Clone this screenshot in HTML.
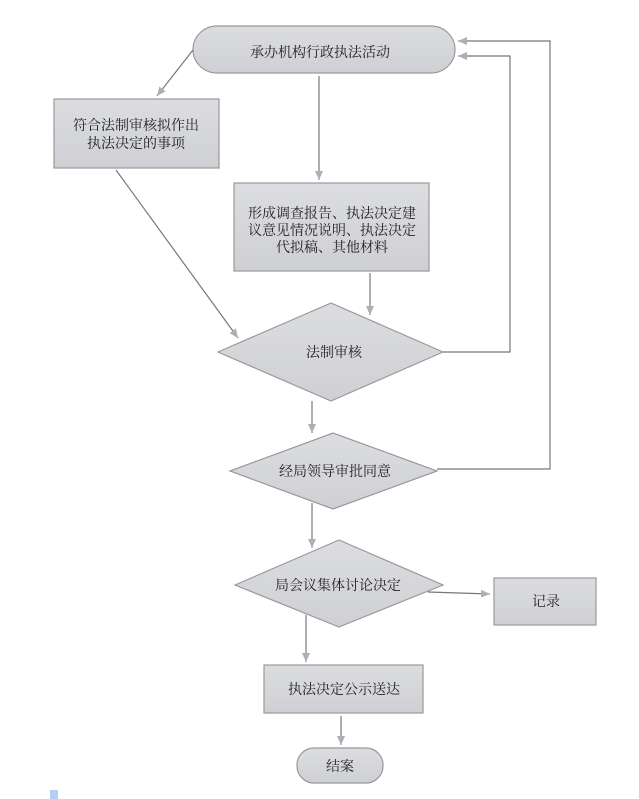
<!DOCTYPE html>
<html><head><meta charset="utf-8"><style>
html,body{margin:0;padding:0;background:#fff;}
svg{display:block;}
text{font-family:"Liberation Serif","Noto Serif CJK SC","Noto Sans CJK SC",serif;font-size:14px;fill:#222;}
</style></head><body>
<svg width="639" height="799" viewBox="0 0 639 799" xmlns="http://www.w3.org/2000/svg">
<defs>
<linearGradient id="g" x1="0" y1="0" x2="0" y2="1">
<stop offset="0" stop-color="#dcdde0"/><stop offset="1" stop-color="#cfd0d3"/>
</linearGradient>
<marker id="a" markerWidth="10" markerHeight="10" refX="9" refY="5" orient="auto" markerUnits="userSpaceOnUse">
<path d="M0,1 L9,5 L0,9 Z" fill="#aab0b8"/>
</marker>
</defs>
<g stroke="#999" stroke-width="1.2" fill="url(#g)">
<rect x="193" y="26" width="262" height="47" rx="24" ry="24"/>
<rect x="54" y="99" width="165" height="69"/>
<rect x="234" y="183" width="195" height="88"/>
<polygon points="218,352 331,303 443,352 331,401"/>
<polygon points="230,471 333,433 437,471 333,509"/>
<polygon points="235,585 339,540 443,585 339,627"/>
<rect x="494" y="578" width="102" height="47"/>
<rect x="264" y="665" width="159" height="48"/>
<rect x="297" y="748" width="86" height="35" rx="17" ry="17"/>
</g>
<g stroke="#777" stroke-width="1.2" fill="none">
<line x1="193" y1="50" x2="157" y2="96" marker-end="url(#a)"/>
<line x1="319" y1="76" x2="319" y2="180" marker-end="url(#a)"/>
<line x1="116" y1="170" x2="238" y2="338" marker-end="url(#a)"/>
<line x1="370" y1="273" x2="370" y2="315" marker-end="url(#a)"/>
<polyline points="443,352 510,352 510,56 458,56" marker-end="url(#a)"/>
<polyline points="437,469 550,469 550,41 458,41" marker-end="url(#a)"/>
<line x1="312" y1="401" x2="312" y2="433" marker-end="url(#a)"/>
<line x1="312" y1="503" x2="312" y2="548" marker-end="url(#a)"/>
<line x1="428" y1="592" x2="490" y2="594" marker-end="url(#a)"/>
<line x1="306" y1="615" x2="306" y2="662" marker-end="url(#a)"/>
<line x1="341" y1="716" x2="341" y2="745" marker-end="url(#a)"/>
</g>
<text x="320" y="57" text-anchor="middle">承办机构行政执法活动</text>
<text x="136" y="130" text-anchor="middle">符合法制审核拟作出</text>
<text x="136" y="148" text-anchor="middle">执法决定的事项</text>
<text x="332" y="218" text-anchor="middle">形成调查报告、执法决定建</text>
<text x="332" y="235" text-anchor="middle">议意见情况说明、执法决定</text>
<text x="332" y="252" text-anchor="middle">代拟稿、其他材料</text>
<text x="334" y="357" text-anchor="middle">法制审核</text>
<text x="335" y="476" text-anchor="middle">经局领导审批同意</text>
<text x="338" y="590" text-anchor="middle">局会议集体讨论决定</text>
<text x="546" y="606" text-anchor="middle">记录</text>
<text x="344" y="694" text-anchor="middle">执法决定公示送达</text>
<text x="340" y="771" text-anchor="middle">结案</text>
<rect x="50" y="790" width="8" height="9" fill="#b3cff5"/>
</svg>
</body></html>
